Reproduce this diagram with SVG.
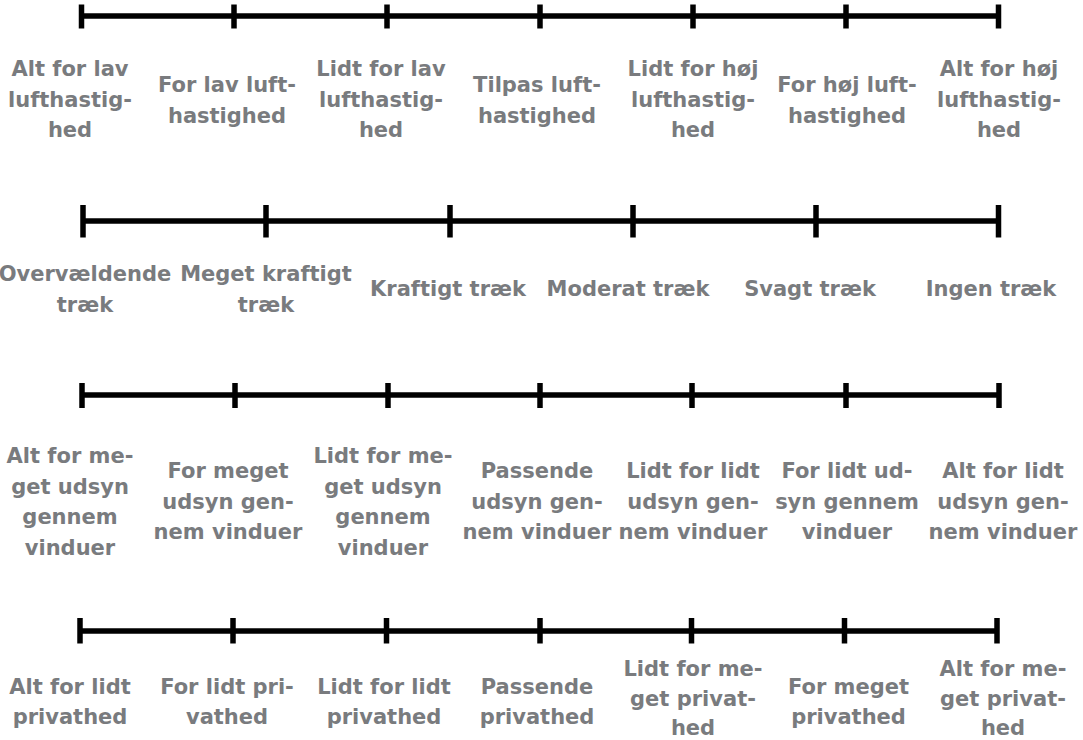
<svg xmlns="http://www.w3.org/2000/svg" width="1083" height="740" viewBox="0 0 1083 740">
<style>
.bar{stroke:#000;stroke-width:5.5;fill:none}
.tk{stroke:#000;stroke-width:5.5}
.lb{font-family:"DejaVu Sans",Verdana,sans-serif;font-weight:bold;font-size:21px;fill:#797b7e;text-anchor:middle}
</style>
<rect width="1083" height="740" fill="#fff"/>
<g id="connectors">
<g id="scale1">
<line class="bar" x1="81.5" y1="16" x2="998.5" y2="16"/>
<line class="tk" x1="81.5" y1="4.5" x2="81.5" y2="28.5"/><line class="tk" x1="234" y1="4.5" x2="234" y2="28.5"/><line class="tk" x1="387" y1="4.5" x2="387" y2="28.5"/><line class="tk" x1="540" y1="4.5" x2="540" y2="28.5"/><line class="tk" x1="693" y1="4.5" x2="693" y2="28.5"/><line class="tk" x1="846" y1="4.5" x2="846" y2="28.5"/><line class="tk" x1="998.5" y1="4.5" x2="998.5" y2="28.5"/>
</g>
<g id="scale2">
<line class="bar" x1="83" y1="221" x2="998.5" y2="221"/>
<line class="tk" x1="83" y1="205" x2="83" y2="237.5"/><line class="tk" x1="266" y1="205" x2="266" y2="237.5"/><line class="tk" x1="450" y1="205" x2="450" y2="237.5"/><line class="tk" x1="633" y1="205" x2="633" y2="237.5"/><line class="tk" x1="816" y1="205" x2="816" y2="237.5"/><line class="tk" x1="998.5" y1="205" x2="998.5" y2="237.5"/>
</g>
<g id="scale3">
<line class="bar" x1="82" y1="395" x2="999" y2="395"/>
<line class="tk" x1="82" y1="383" x2="82" y2="408"/><line class="tk" x1="235" y1="383" x2="235" y2="408"/><line class="tk" x1="388" y1="383" x2="388" y2="408"/><line class="tk" x1="540" y1="383" x2="540" y2="408"/><line class="tk" x1="692" y1="383" x2="692" y2="408"/><line class="tk" x1="846" y1="383" x2="846" y2="408"/><line class="tk" x1="999" y1="383" x2="999" y2="408"/>
</g>
<g id="scale4">
<line class="bar" x1="80" y1="631" x2="997" y2="631"/>
<line class="tk" x1="80" y1="618" x2="80" y2="643.5"/><line class="tk" x1="233" y1="618" x2="233" y2="643.5"/><line class="tk" x1="386.5" y1="618" x2="386.5" y2="643.5"/><line class="tk" x1="540" y1="618" x2="540" y2="643.5"/><line class="tk" x1="691.5" y1="618" x2="691.5" y2="643.5"/><line class="tk" x1="844.5" y1="618" x2="844.5" y2="643.5"/><line class="tk" x1="997" y1="618" x2="997" y2="643.5"/>
</g>
</g>
<g id="r1c1"><text class="lb" x="70" y="76">Alt for lav</text><text class="lb" x="70" y="106.5">lufthastig-</text><text class="lb" x="70" y="137">hed</text></g>
<g id="r1c2"><text class="lb" x="227" y="92">For lav luft-</text><text class="lb" x="227" y="122.5">hastighed</text></g>
<g id="r1c3"><text class="lb" x="381" y="76">Lidt for lav</text><text class="lb" x="381" y="106.5">lufthastig-</text><text class="lb" x="381" y="137">hed</text></g>
<g id="r1c4"><text class="lb" x="537" y="92">Tilpas luft-</text><text class="lb" x="537" y="122.5">hastighed</text></g>
<g id="r1c5"><text class="lb" x="693" y="76">Lidt for høj</text><text class="lb" x="693" y="106.5">lufthastig-</text><text class="lb" x="693" y="137">hed</text></g>
<g id="r1c6"><text class="lb" x="847" y="92">For høj luft-</text><text class="lb" x="847" y="122.5">hastighed</text></g>
<g id="r1c7"><text class="lb" x="999" y="76">Alt for høj</text><text class="lb" x="999" y="106.5">lufthastig-</text><text class="lb" x="999" y="137">hed</text></g>
<g id="r2c1"><text class="lb" x="85" y="281">Overvældende</text><text class="lb" x="85" y="311.5">træk</text></g>
<g id="r2c2"><text class="lb" x="266" y="281">Meget kraftigt</text><text class="lb" x="266" y="311.5">træk</text></g>
<g id="r2c3"><text class="lb" x="448" y="296">Kraftigt træk</text></g>
<g id="r2c4"><text class="lb" x="628" y="296">Moderat træk</text></g>
<g id="r2c5"><text class="lb" x="810" y="296">Svagt træk</text></g>
<g id="r2c6"><text class="lb" x="991" y="296">Ingen træk</text></g>
<g id="r3c1"><text class="lb" x="70" y="463">Alt for me-</text><text class="lb" x="70" y="493.5">get udsyn</text><text class="lb" x="70" y="524">gennem</text><text class="lb" x="70" y="554.5">vinduer</text></g>
<g id="r3c2"><text class="lb" x="228" y="478">For meget</text><text class="lb" x="228" y="508.5">udsyn gen-</text><text class="lb" x="228" y="539">nem vinduer</text></g>
<g id="r3c3"><text class="lb" x="383" y="463">Lidt for me-</text><text class="lb" x="383" y="493.5">get udsyn</text><text class="lb" x="383" y="524">gennem</text><text class="lb" x="383" y="554.5">vinduer</text></g>
<g id="r3c4"><text class="lb" x="537" y="478">Passende</text><text class="lb" x="537" y="508.5">udsyn gen-</text><text class="lb" x="537" y="539">nem vinduer</text></g>
<g id="r3c5"><text class="lb" x="693" y="478">Lidt for lidt</text><text class="lb" x="693" y="508.5">udsyn gen-</text><text class="lb" x="693" y="539">nem vinduer</text></g>
<g id="r3c6"><text class="lb" x="847" y="478">For lidt ud-</text><text class="lb" x="847" y="508.5">syn gennem</text><text class="lb" x="847" y="539">vinduer</text></g>
<g id="r3c7"><text class="lb" x="1003" y="478">Alt for lidt</text><text class="lb" x="1003" y="508.5">udsyn gen-</text><text class="lb" x="1003" y="539">nem vinduer</text></g>
<g id="r4c1"><text class="lb" x="70" y="694">Alt for lidt</text><text class="lb" x="70" y="724">privathed</text></g>
<g id="r4c2"><text class="lb" x="227" y="694">For lidt pri-</text><text class="lb" x="227" y="724">vathed</text></g>
<g id="r4c3"><text class="lb" x="384" y="694">Lidt for lidt</text><text class="lb" x="384" y="724">privathed</text></g>
<g id="r4c4"><text class="lb" x="537" y="694">Passende</text><text class="lb" x="537" y="724">privathed</text></g>
<g id="r4c5"><text class="lb" x="693" y="676">Lidt for me-</text><text class="lb" x="693" y="706">get privat-</text><text class="lb" x="693" y="735">hed</text></g>
<g id="r4c6"><text class="lb" x="848.5" y="694">For meget</text><text class="lb" x="848.5" y="724">privathed</text></g>
<g id="r4c7"><text class="lb" x="1003" y="676">Alt for me-</text><text class="lb" x="1003" y="706">get privat-</text><text class="lb" x="1003" y="735">hed</text></g>
</svg>
